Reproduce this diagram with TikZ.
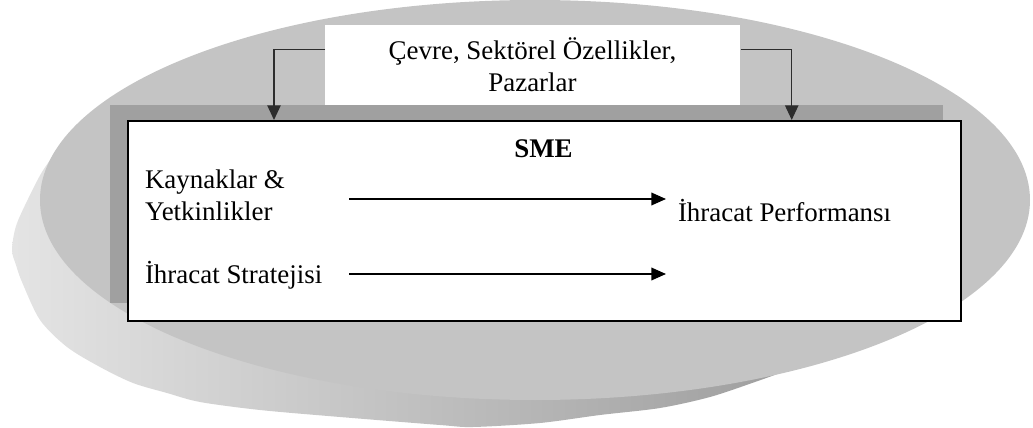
\documentclass[tikz,border=0pt]{standalone}
\usepackage{fontspec}
\setmainfont{Liberation Serif}
\usetikzlibrary{arrows.meta,calc}
\definecolor{facegray}{RGB}{196,196,196}
\definecolor{shadowgray}{RGB}{160,160,160}
\definecolor{bandlight}{RGB}{228,228,228}
\definecolor{bandmid}{RGB}{172,172,172}
\definecolor{banddark}{RGB}{156,156,156}
\definecolor{conngray}{RGB}{45,45,45}
\begin{document}
\begin{tikzpicture}[x=0.75pt,y=-0.75pt,
  txt/.style={font=\fontsize{20.2}{24}\selectfont, inner sep=0pt, outer sep=0pt},
  txtb/.style={font=\fontsize{20.2}{24}\selectfont\bfseries, inner sep=0pt},
  conn/.style={draw=conngray, line width=1.1pt, -{Triangle[length=11pt,width=10pt]}},
  arr/.style={draw=black, line width=1.2pt, -{Triangle[length=11pt,width=9.5pt]}}]
\useasboundingbox (0,0) rectangle (1033,428);
% disc side (visible lower-left band)
\shade[left color=bandlight, middle color=bandmid, right color=banddark]
  plot[smooth, tension=0.5] coordinates {(76,132) (58,150) (42,172) (28,199) (16,226)
    (12,250) (16,265) (22,282) (40,320) (67,347) (100,367) (133,383) (167,393)
    (200,402) (260,410) (340,417) (440,425) (473,427) (540,423) (600,415) (660,408)
    (710,397) (755,382) (785,371) (815,358)} -- (600,250) -- (200,220) -- cycle;
% disc face
\fill[facegray] (535,200) ellipse [x radius=495, y radius=200];
% shadow of the main box
\fill[shadowgray] (110,105) rectangle (943,303);
% main box
\node[draw=black, line width=1.3pt, fill=white, anchor=north west, inner sep=0pt,
  minimum width=833*0.75pt, minimum height=200*0.75pt] (sme) at (127,120) {};
% top box
\node[fill=white, anchor=north west, inner sep=0pt,
  minimum width=415*0.75pt, minimum height=80*0.75pt] (env) at (325,25) {};
\node[txt, anchor=base, align=center] (envtext) at (532.5,92)
  {Çevre, Sektörel Özellikler,\\Pazarlar};
% texts
\node[txtb, anchor=base] (smelabel) at (543.5,157) {SME};
\node[txt, anchor=base west, align=left] (kay) at (145,220)
  {Kaynaklar \&\\Yetkinlikler};
\node[txt, anchor=base west] (perf) at (678,221) {İhracat Performansı};
\node[txt, anchor=base west] (strat) at (145,283) {İhracat Stratejisi};
% arrow end points
\coordinate (s1) at (349,199);
\coordinate (e1) at (666,199);
\coordinate (s2) at (349,274);
\coordinate (e2) at (666,274);
\draw[arr] (s1) -- (e1);
\draw[arr] (s2) -- (e2);
% connectors from environment box
\draw[conn] ([yshift=12pt]env.west) -| ([xshift=147*0.75pt]sme.north west);
\draw[conn] ([yshift=12pt]env.east) -| ([xshift=-170*0.75pt]sme.north east);
\end{tikzpicture}
\end{document}
